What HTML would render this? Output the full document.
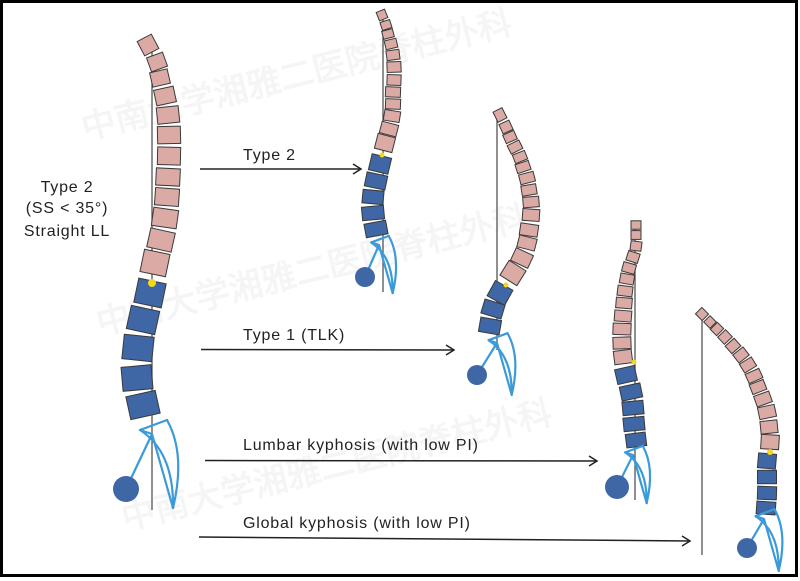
<!DOCTYPE html>
<html><head><meta charset="utf-8">
<style>
html,body{margin:0;padding:0;background:#fff;}
#c{position:relative;width:800px;height:581px;overflow:hidden;background:#fff;}
svg{position:absolute;left:0;top:0;}
text{font-family:"Liberation Sans","DejaVu Sans",sans-serif;}
</style></head>
<body><div id="c">
<svg id="s" width="800" height="581" viewBox="0 0 800 581" xmlns="http://www.w3.org/2000/svg">
<rect x="0" y="0" width="800" height="581" fill="#fff"/>
<rect x="1.5" y="1.5" width="795" height="574" fill="none" stroke="#000" stroke-width="3"/>
<g fill="#000" opacity="0.035" font-family="'Noto Sans CJK SC',sans-serif" font-size="34" font-weight="bold">
<text x="85" y="140" transform="rotate(-14 85 140)">中南大学湘雅二医院脊柱外科</text>
<text x="100" y="335" transform="rotate(-14 100 335)">中南大学湘雅二医院脊柱外科</text>
<text x="125" y="530" transform="rotate(-14 125 530)">中南大学湘雅二医院脊柱外科</text>
</g>
<g stroke="#555" stroke-width="1.3">
<line x1="152" y1="40" x2="152" y2="510"/>
<line x1="383" y1="15" x2="383" y2="292"/>
<line x1="497" y1="118" x2="497" y2="350"/>
<line x1="635" y1="223" x2="635" y2="500"/>
<line x1="702" y1="320" x2="702" y2="555"/>
</g>
<g stroke="#222" stroke-width="1.5" fill="none">
<line x1="200" y1="169" x2="361" y2="169"/><path d="M353 164 L361 169 L353 174"/>
<line x1="201" y1="349.5" x2="454" y2="350"/><path d="M446 345 L454 350 L446 355"/>
<line x1="205" y1="460.5" x2="597" y2="461"/><path d="M589 456 L597 461 L589 466"/>
<line x1="199" y1="537" x2="690" y2="541"/><path d="M682 536 L690 541 L682 546"/>
</g>
<g font-size="16" fill="#222" letter-spacing="0.8">
<text x="243" y="160">Type 2</text>
<text x="243" y="340">Type 1 (TLK)</text>
<text x="243" y="450">Lumbar kyphosis (with low PI)</text>
<text x="243" y="528">Global kyphosis (with low PI)</text>
<text x="67" y="192" text-anchor="middle">Type 2</text>
<text x="67" y="213" text-anchor="middle">(SS &lt; 35°)</text>
<text x="67" y="236" text-anchor="middle">Straight LL</text>
</g>
<g id="sp"></g>
</svg>
</div>
<script>
var NS="http://www.w3.org/2000/svg";
var g=document.getElementById("sp");
function el(n,a){var e=document.createElementNS(NS,n);for(var k in a)e.setAttribute(k,a[k]);g.appendChild(e);return e;}
function spine(pts,nPink){
  for(var i=0;i<pts.length;i++){
    var p=pts[i],a=pts[Math.max(0,i-1)],b=pts[Math.min(pts.length-1,i+1)];
    var dx=b[0]-a[0],dy=b[1]-a[1];
    var ang=Math.atan2(dx,dy)*180/Math.PI;
    var d=Math.hypot(dx,dy)/((i==0||i==pts.length-1)?1:2);
    var h=d*0.84,w=p[2];
    el("rect",{x:p[0]-w/2,y:p[1]-h/2,width:w,height:h,fill:i<nPink?"#dcaaa4":"#3f67a6",stroke:"#3a3a3a","stroke-width":1,transform:"rotate("+(-ang)+" "+p[0]+" "+p[1]+")"});
  }
}
function pelvis(Sx,Sy,Fx,Fy,r,s){
  function P(x,y){return (Sx+x*s)+" "+(Sy+y*s);}
  var st={fill:"none",stroke:"#3b9ad8","stroke-width":2.2,"stroke-linecap":"round","stroke-linejoin":"round"};
  function path(d){var o={d:d};for(var k in st)o[k]=st[k];el("path",o);}
  path("M"+P(-12,-4)+" L"+P(15,-14)+" M"+P(-12,-4)+" L"+P(0,0));
  path("M"+P(0,0)+" L"+P(21,74));
  path("M"+P(15,-14)+" Q"+P(34,20)+" "+P(21,74));
  path("M"+P(-12,-4)+" Q"+P(22,18)+" "+P(21,74));
  el("line",{x1:Fx,y1:Fy,x2:Sx,y2:Sy,stroke:"#3b9ad8","stroke-width":2.2});
  el("circle",{cx:Fx,cy:Fy,r:r,fill:"#3f67a6"});
}
spine([[148,45,16],[157,62,17],[160,78,18],[165,96,20],[168,115,22],[169,135,23],[169,156,23],[168,177,24],[167,197,24],[165,218,25],[161,240,25],[155,263,26],
[150,293,28],[143,320,29],[138,348,30],[137,378,30],[143,405,30]],12);
pelvis(152,434,126,489,13,1);
spine([[382,15,9],[386,25,10],[388,34,11],[391,44,12],[393,55,13],[394,67,14],[394,80,14],[393,92,15],[393,104,15],[392,116,16],[389,129,17],[385,143,18],
[380,164,20],[376,181,21],[373,197,21],[373,213,22],[376,229,22]],12);
pelvis(379,245,365,277,10,0.65);
spine([[500,115,10],[506,127,11],[510,137,12],[515,147,13],[520,157,13],[523,167,14],[527,178,15],[529,190,15],[531,202,16],[531,215,17],[529,230,18],[527,243,18],[522,258,19],[513,273,20],
[500,293,20],[493,309,21],[490,326,21]],14);
pelvis(497,343,477,375,10,0.7);
spine([[636,225,10],[636,235,10],[636,246,11],[633,257,12],[629,268,13],[627,279,14],[625,291,15],[624,303,16],[623,316,17],[622,329,18],[622,343,18],[623,357,18],
[626,375,20],[631,392,21],[633,408,21],[634,424,21],[636,440,20]],12);
pelvis(633,455,617,487,12,0.65);
spine([[702,314,9],[710,322,9],[717,329,10],[725,337,11],[733,346,12],[741,355,13],[748,365,14],[754,376,15],[758,387,15],[763,399,16],[767,412,17],[769,427,17],[770,442,18],
[767,461,18],[767,477,19],[767,493,19],[766,508,19]],13);
pelvis(764,519,747,548,10,0.7);
[[152,283,4],[382,155,2.5],[506,285,2.5],[634,362,2.5],[770,452,3]].forEach(function(d){el("circle",{cx:d[0],cy:d[1],r:d[2],fill:"#f2d81e"});});
</script>
</body></html>
